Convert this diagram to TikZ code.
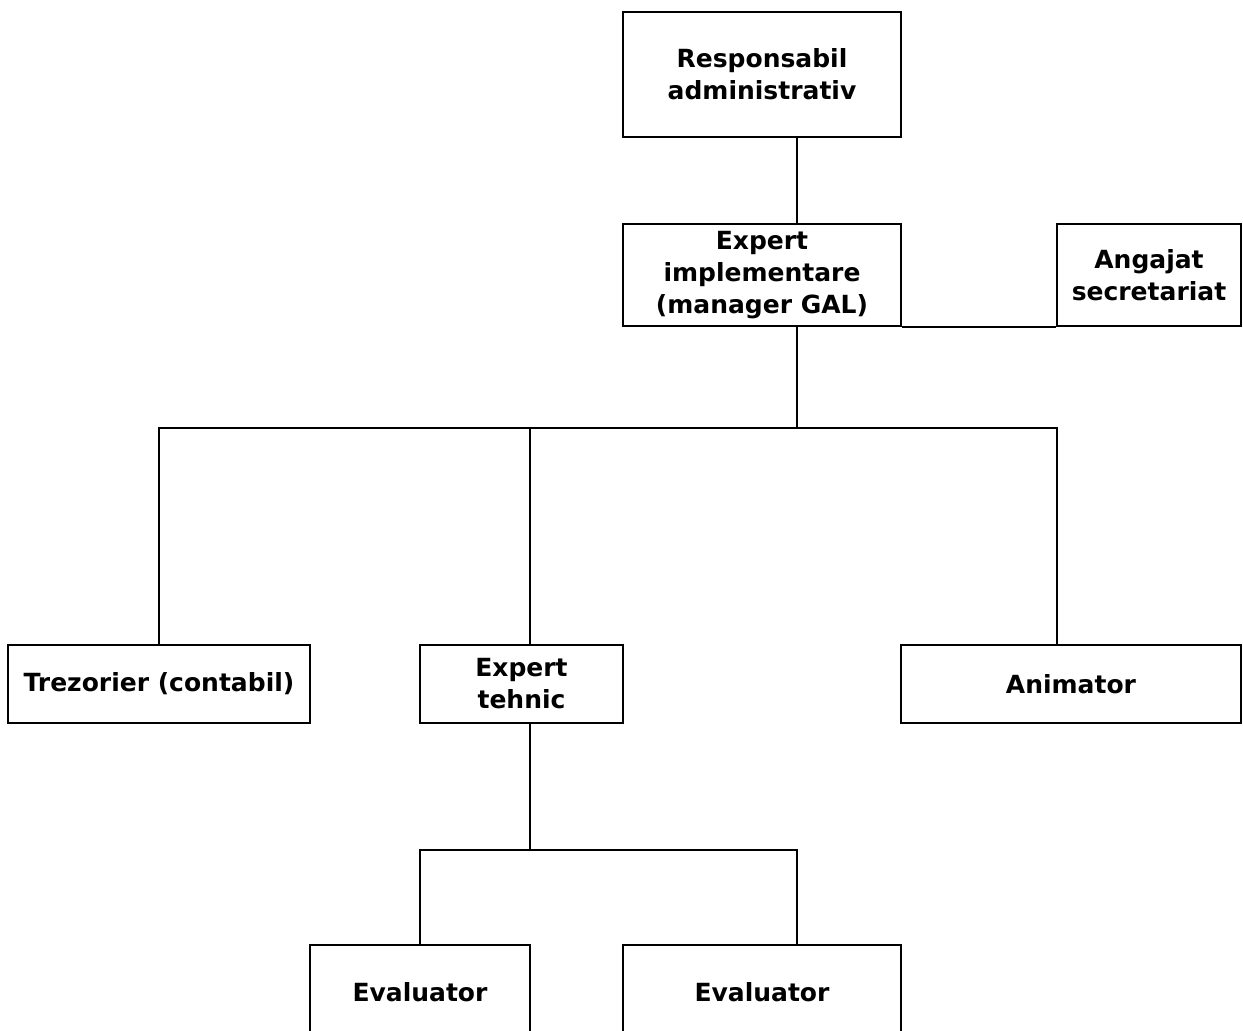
\documentclass[tikz,border=0pt]{standalone}
\usepackage{fontspec}
\setmainfont{DejaVu Sans}
\begin{document}
\begin{tikzpicture}[x=1pt,y=-1pt,
  box/.style={draw, line width=2.2pt, inner sep=0pt, align=center,
    font=\bfseries\fontsize{25}{32}\selectfont},
  link/.style={line width=2.2pt, line join=miter}]
\useasboundingbox (0,0) rectangle (1243,1031);
\clip (0,0) rectangle (1243,1031);
% boxes
\node[box, minimum width=278pt, minimum height=125pt] (resp) at (762,74.5) {Responsabil\\administrativ};
\node[box, minimum width=278pt, minimum height=102pt] (impl) at (762,275) {Expert\\implementare\\(manager GAL)};
\node[box, minimum width=184pt, minimum height=102pt] (ang) at (1149,275) {Angajat\\secretariat};
\node[box, minimum width=302pt, minimum height=78pt] (trez) at (159,684) {Trezorier (contabil)};
\node[box, minimum width=203pt, minimum height=78pt] (teh) at (521.5,684) {Expert\\tehnic};
\node[box, minimum width=340pt, minimum height=78pt] (anim) at (1071,684) {Animator};
\node[box, minimum width=220pt, minimum height=95pt] (ev1) at (420,992.5) {Evaluator};
\node[box, minimum width=278pt, minimum height=95pt] (ev2) at (762,992.5) {Evaluator};
% helper coordinates
\coordinate (mid) at (797,0);
\coordinate (busL) at (159,428);
\coordinate (busR) at (1057,428);
\coordinate (busM) at (797,428);
\coordinate (busE) at (530,428);
\coordinate (busTL) at (420,850);
\coordinate (busTR) at (797,850);
\coordinate (busTM) at (530,850);
% connectors
\draw[link] (resp.south -| mid) -- (impl.north -| mid);
\draw[link] (impl.south east) -- (ang.south west);
\draw[link] (impl.south -| mid) -- (busM);
\draw[link] (trez.north) -- (busL) -- (busR) -- (anim.north -| busR);
\draw[link] (busE) -- (teh.north -| busE);
\draw[link] (teh.south -| busTM) -- (busTM);
\draw[link] (ev1.north) -- (busTL) -- (busTR) -- (ev2.north -| busTR);
\end{tikzpicture}
\end{document}
